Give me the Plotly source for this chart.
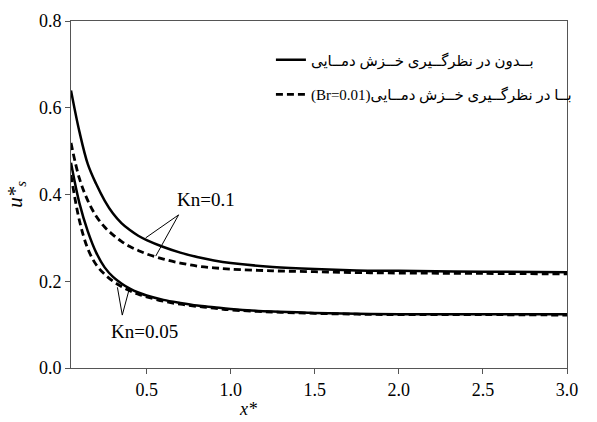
import plotly.graph_objects as go

# ---- data ----
x_vals = [0.05, 0.1, 0.15, 0.2, 0.25, 0.3, 0.35, 0.4, 0.45, 0.5, 0.6, 0.7, 0.8, 0.9, 1.0,
          1.25, 1.5, 1.75, 2.0, 2.5, 3.0]

kn01_no_creep  = [0.640, 0.545, 0.470, 0.424, 0.386, 0.356, 0.334, 0.318, 0.305, 0.295, 0.279,
                  0.266, 0.256, 0.248, 0.242, 0.233, 0.228, 0.225, 0.224, 0.222, 0.221]
kn01_creep     = [0.519, 0.437, 0.386, 0.350, 0.325, 0.307, 0.292, 0.280, 0.271, 0.263, 0.251,
                  0.242, 0.235, 0.231, 0.228, 0.224, 0.222, 0.220, 0.219, 0.218, 0.217]
kn005_no_creep = [0.473, 0.380, 0.315, 0.266, 0.232, 0.210, 0.195, 0.183, 0.174, 0.167, 0.157,
                  0.150, 0.144, 0.140, 0.136, 0.130, 0.127, 0.125, 0.124, 0.124, 0.124]
kn005_creep    = [0.445, 0.340, 0.275, 0.238, 0.216, 0.200, 0.188, 0.178, 0.170, 0.164, 0.154,
                  0.147, 0.142, 0.138, 0.134, 0.129, 0.126, 0.124, 0.123, 0.123, 0.122]

LRI, RLI, PDI = "\u2066", "\u2067", "\u2069"
legend_no_creep = RLI + "بــدون در نظرگــیری خــزش دمــایی" + PDI
legend_creep = LRI + "(Br=0.01)" + PDI + RLI + "بــا در نظرگــیری خــزش دمــایی" + PDI

x_ticks = [0.5, 1.0, 1.5, 2.0, 2.5, 3.0]
y_ticks = [0.0, 0.2, 0.4, 0.6, 0.8]

SERIF = "Times New Roman, Liberation Serif, serif"
LEG_FONT = "Times New Roman, Liberation Serif, DejaVu Sans, serif"

fig = go.Figure()

solid = dict(color="black", width=2.5)
dashed = dict(color="black", width=2.8, dash="7px,4px")

fig.add_trace(go.Scatter(x=x_vals, y=kn01_no_creep, mode="lines", line=solid, line_shape="spline",
                         name=legend_no_creep, legendgroup="a", showlegend=True))
fig.add_trace(go.Scatter(x=x_vals, y=kn01_creep, mode="lines", line=dashed, line_shape="spline",
                         name=legend_creep, legendgroup="b", showlegend=True))
fig.add_trace(go.Scatter(x=x_vals, y=kn005_no_creep, mode="lines", line=solid, line_shape="spline",
                         name=legend_no_creep, legendgroup="a", showlegend=False))
fig.add_trace(go.Scatter(x=x_vals, y=kn005_creep, mode="lines", line=dashed, line_shape="spline",
                         name=legend_creep, legendgroup="b", showlegend=False))

# annotation pointer lines
pointer = dict(color="black", width=1)
for (x0, y0, x1, y1) in [(0.69, 0.353, 0.494, 0.300), (0.69, 0.353, 0.554, 0.258),
                         (0.355, 0.122, 0.326, 0.186), (0.355, 0.122, 0.395, 0.180)]:
    fig.add_shape(type="line", x0=x0, y0=y0, x1=x1, y1=y1, xref="x", yref="y", line=pointer)

fig.add_annotation(x=0.85, y=0.388, text="Kn=0.1", showarrow=False, xref="x", yref="y",
                   font=dict(family=SERIF, size=19, color="black"))
fig.add_annotation(x=0.49, y=0.085, text="Kn=0.05", showarrow=False, xref="x", yref="y",
                   font=dict(family=SERIF, size=19, color="black"))

# x-axis title (placed off-centre, near the bottom edge as in the reference)
fig.add_annotation(x=1.10, y=-0.153, yanchor="bottom", text="<i>x*</i>", showarrow=False,
                   xref="x", yref="paper", font=dict(family=SERIF, size=18, color="black"))

axis_common = dict(showline=True, linecolor="#555555", linewidth=1, mirror=True,
                   ticks="outside", ticklen=5, tickcolor="#555555", showgrid=False, zeroline=False,
                   tickfont=dict(family=SERIF, size=18, color="black"))

fig.update_xaxes(range=[0.05, 3.0], tickvals=x_ticks, ticktext=[f"{v:.1f}" for v in x_ticks], **axis_common)
fig.update_yaxes(range=[0, 0.8], tickvals=y_ticks, ticktext=[f"{v:.1f}" for v in y_ticks],
                 title=dict(text="<i>u*</i><sub><i>s</i></sub>", font=dict(family=SERIF, size=21, color="black"),
                            standoff=10),
                 **axis_common)

fig.update_layout(
    width=597, height=422,
    margin=dict(l=71, r=30, t=21, b=54),
    plot_bgcolor="white", paper_bgcolor="white",
    font=dict(family=SERIF, size=17, color="black"),
    legend=dict(x=1.02, y=0.935, xanchor="right", yanchor="top", bgcolor="rgba(0,0,0,0)",
                traceorder="grouped", tracegroupgap=12,
                font=dict(family=LEG_FONT, size=15, color="black")),
)

fig.write_html("out.html")
